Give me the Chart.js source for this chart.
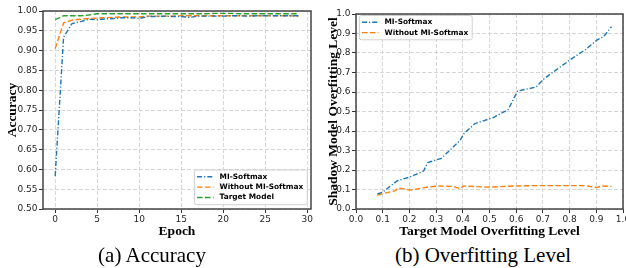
<!DOCTYPE html>
<html>
<head>
<meta charset="utf-8">
<script src="https://cdn.jsdelivr.net/npm/chart.js@4.4.0/dist/chart.umd.min.js"></script>
<style>
  html, body { margin: 0; padding: 0; background: #fff; width: 626px; height: 268px; overflow: hidden; position: relative; }
  canvas { position: absolute; top: 0; }
  #accChart { left: 0; }
  #ovfChart { left: 313px; }
  .caption { position: absolute; top: 245px; font: 21px "Liberation Serif"; line-height: 21px; color: #000; white-space: nowrap; transform: translateX(-50%); }
</style>
</head>
<body>
<canvas id="ovfChart" width="330" height="240"></canvas>
<canvas id="accChart" width="323" height="240"></canvas>
<div class="caption" style="left:152px">(a) Accuracy</div>
<div class="caption" style="left:483px">(b) Overfitting Level</div>
<script>
// (a) accuracy per epoch
const epochs = [0,1,2,3,4,5,6,7,8,9,10,11,12,13,14,15,16,17,18,19,20,21,22,23,24,25,26,27,28,29];
const accMISoftmax = [0.583,0.934,0.968,0.973,0.979,0.978,0.980,0.981,0.983,0.983,0.981,0.986,0.986,0.987,0.986,0.986,0.984,0.987,0.987,0.987,0.987,0.988,0.988,0.987,0.988,0.988,0.988,0.988,0.988,0.988];
const accWithout = [0.905,0.970,0.977,0.979,0.981,0.982,0.983,0.984,0.985,0.985,0.985,0.987,0.987,0.987,0.987,0.988,0.988,0.988,0.988,0.988,0.988,0.988,0.988,0.988,0.988,0.988,0.988,0.988,0.988,0.987];
const accTarget = [0.978,0.988,0.988,0.988,0.990,0.993,0.993,0.993,0.993,0.993,0.993,0.993,0.993,0.993,0.993,0.993,0.993,0.993,0.993,0.994,0.994,0.994,0.993,0.993,0.993,0.993,0.993,0.993,0.993,0.993];
const epochTicks = [0,5,10,15,20,25,30];
const accTicks = [0.50,0.55,0.60,0.65,0.70,0.75,0.80,0.85,0.90,0.95,1.00];

// (b) shadow vs target overfitting level
const targetLevelMI = [0.080,0.098,0.155,0.200,0.253,0.269,0.320,0.390,0.405,0.446,0.516,0.570,0.605,0.674,0.706,0.807,0.860,0.902,0.928,0.957];
const shadowLevelMI = [0.077,0.085,0.145,0.163,0.195,0.238,0.260,0.352,0.388,0.438,0.470,0.510,0.605,0.625,0.670,0.770,0.818,0.866,0.885,0.935];
const targetLevelPlain = [0.080,0.100,0.148,0.158,0.205,0.269,0.313,0.364,0.390,0.402,0.490,0.590,0.668,0.858,0.902,0.920,0.957];
const shadowLevelPlain = [0.070,0.079,0.094,0.108,0.097,0.113,0.118,0.116,0.104,0.118,0.112,0.118,0.120,0.120,0.110,0.118,0.116];
const levelTicks = [0,0.1,0.2,0.3,0.4,0.5,0.6,0.7,0.8,0.9,1.0];

const BLUE = "#1f77b4", ORANGE = "#ff7f0e", GREEN = "#2ca02c";
const DASHDOT = [5, 2, 1.2, 2];
const DASHED = [5.5, 2.4];

const pairs = (xs, ys) => xs.map((x, i) => ({ x: x, y: ys[i] }));

// frame on all four sides + legend drawn inside the plot area
const framePlugin = {
  id: "frame",
  afterDatasetsDraw(chart) {
    const { ctx, chartArea: a } = chart;
    ctx.save();
    ctx.strokeStyle = "#444";
    ctx.lineWidth = 1.5;
    ctx.strokeRect(a.left, a.top, a.right - a.left, a.bottom - a.top);
    ctx.restore();
  }
};

const insideLegend = {
  id: "insideLegend",
  afterDatasetsDraw(chart, args, opts) {
    const { ctx, chartArea: a } = chart;
    const sets = chart.data.datasets;
    ctx.save();
    ctx.font = 'bold 7.4px "DejaVu Sans"';
    const textW = Math.max(...sets.map(d => ctx.measureText(d.label).width));
    const w = 2.6 + 16.5 + 6 + textW + 4;
    const rowH = 10.4;
    const h = rowH * sets.length + 3.5;
    const x0 = opts.corner === "br" ? a.right - opts.mx - w : a.left + opts.mx;
    const y0 = opts.corner === "br" ? a.bottom - opts.my - h : a.top + opts.my;
    ctx.fillStyle = "rgba(255,255,255,0.85)";
    ctx.strokeStyle = "#d0d0d0";
    ctx.lineWidth = 1;
    ctx.beginPath();
    ctx.roundRect(x0, y0, w, h, 2);
    ctx.fill();
    ctx.stroke();
    sets.forEach((d, i) => {
      const cy = y0 + 1.5 + rowH * (i + 0.5);
      ctx.strokeStyle = d.borderColor;
      ctx.lineWidth = d.borderWidth;
      ctx.setLineDash(d.borderDash);
      ctx.beginPath();
      ctx.moveTo(x0 + 2.6, cy);
      ctx.lineTo(x0 + 2.6 + 16.5, cy);
      ctx.stroke();
      ctx.setLineDash([]);
      ctx.fillStyle = "#000";
      ctx.textBaseline = "middle";
      ctx.fillText(d.label, x0 + 2.6 + 16.5 + 6, cy);
    });
    ctx.restore();
  }
};

function axis(cfg) {
  return {
    type: "linear",
    min: cfg.min,
    max: cfg.max,
    afterBuildTicks: s => { s.ticks = cfg.ticks.map(v => ({ value: v })); },
    afterFit: s => { if (cfg.width) s.width = cfg.width; if (cfg.height) s.height = cfg.height; },
    grid: { color: "#d2d2d2", lineWidth: 0.9, tickColor: "#333", tickLength: 4, tickWidth: 1, tickBorderDash: [] },
    border: { display: false, dash: [4, 2] },
    ticks: {
      autoSkip: false, maxRotation: 0, padding: 1.5,
      color: "#262626", font: { family: "DejaVu Sans", size: 9 },
      callback: v => v.toFixed(cfg.digits)
    },
    title: {
      display: true, text: cfg.title, color: "#000", padding: 0,
      font: { family: "Liberation Serif", size: 13.5, weight: "bold" }
    }
  };
}

function line(label, data, color, dash) {
  return { label: label, data: data, borderColor: color, backgroundColor: color, borderWidth: 1.4,
           borderDash: dash, pointRadius: 0, tension: 0, showLine: true, fill: false };
}

Chart.defaults.animation = false;

new Chart(document.getElementById("accChart"), {
  type: "scatter",
  data: {
    datasets: [
      line("MI-Softmax", pairs(epochs, accMISoftmax), BLUE, DASHDOT),
      line("Without MI-Softmax", pairs(epochs, accWithout), ORANGE, DASHED),
      line("Target Model", pairs(epochs, accTarget), GREEN, DASHED)
    ]
  },
  options: {
    responsive: false,
    layout: { padding: { left: 4, right: 12, top: 11, bottom: 0 } },
    plugins: { legend: { display: false }, tooltip: { enabled: false },
               insideLegend: { corner: "br", mx: 3.7, my: 4.3 } },
    scales: {
      x: axis({ min: -1.45, max: 30.45, ticks: epochTicks, digits: 0, title: "Epoch", height: 31 }),
      y: axis({ min: 0.5, max: 1.0, ticks: accTicks, digits: 2, title: "Accuracy", width: 39 })
    }
  },
  plugins: [framePlugin, insideLegend]
});

new Chart(document.getElementById("ovfChart"), {
  type: "scatter",
  data: {
    datasets: [
      line("MI-Softmax", pairs(targetLevelMI, shadowLevelMI), BLUE, DASHDOT),
      line("Without MI-Softmax", pairs(targetLevelPlain, shadowLevelPlain), ORANGE, DASHED)
    ]
  },
  options: {
    responsive: false,
    layout: { padding: { left: 12, right: 20, top: 14, bottom: 0 } },
    plugins: { legend: { display: false }, tooltip: { enabled: false },
               insideLegend: { corner: "tl", mx: 3.4, my: 1.5 } },
    scales: {
      x: axis({ min: 0, max: 1, ticks: levelTicks, digits: 1, title: "Target Model Overfitting Level", height: 31 }),
      y: axis({ min: 0, max: 1, ticks: levelTicks, digits: 1, title: "Shadow Model Overfitting Level", width: 31 })
    }
  },
  plugins: [framePlugin, insideLegend]
});
</script>
</body>
</html>
